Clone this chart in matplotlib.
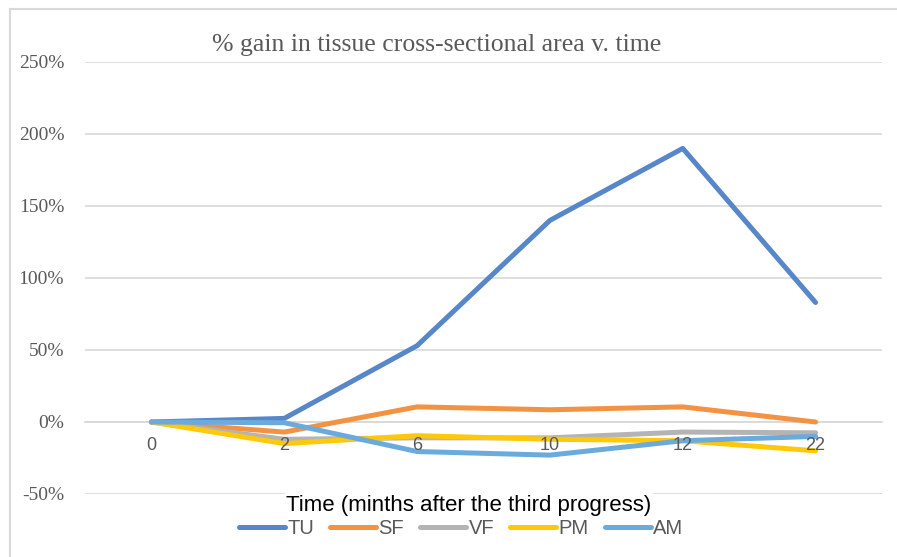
import numpy as np
import matplotlib.pyplot as plt
from matplotlib.lines import Line2D

# Categories (months after the third progress)
months = ["0", "2", "6", "10", "12", "22"]

# % gain per tissue
tu = [0, 2.5, 53, 140, 190, 83]
sf = [0, -7, 10.5, 8.5, 10.5, 0]
vf = [0, -12, -11, -11, -7, -7.5]
pm = [0, -15, -9.5, -12, -13, -20]
am = [0, -0.5, -20.5, -23, -13, -10]

series_names = ["TU", "SF", "VF", "PM", "AM"]
y_ticks = [-50, 0, 50, 100, 150, 200, 250]
y_ticklabels = ["-50%", "0%", "50%", "100%", "150%", "200%", "250%"]

colors = ["#5787C9", "#F39242", "#B4B4B4", "#FFC90A", "#6BAADD"]
grid_col = "#D9D9D9"
text_col = "#595959"

fig = plt.figure(figsize=(8.97, 5.57), dpi=100)
ax = fig.add_axes([85 / 897, 1 - 494 / 557, (882 - 85) / 897, (494 - 62) / 557])

x = np.arange(len(months))
for vals, name, c in zip([tu, sf, vf, pm, am], series_names, colors):
    ax.plot(x, vals, color=c, linewidth=3.6, label=name,
            solid_capstyle="round", solid_joinstyle="round", zorder=3)

ax.set_xlim(-0.5, len(months) - 0.5)
ax.set_ylim(-50, 250)

ax.set_yticks(y_ticks)
ax.set_yticklabels(y_ticklabels, family="Liberation Serif",
                   fontsize=14, color=text_col)
ax.tick_params(axis="y", length=0, pad=15)

# category labels sit just under the 0% line, drawn above the lines
ax.set_xticks(x)
ax.set_xticklabels([])
ax.tick_params(axis="x", length=0)
for xi, m in zip(x, months):
    ax.annotate(m, (xi, 0), xytext=(0, -17), textcoords="offset points",
                ha="center", va="center", family="Liberation Sans",
                fontsize=13, color=text_col, zorder=5)

ax.grid(axis="y", color=grid_col, linewidth=1.2)
ax.set_axisbelow(True)
for side in ["top", "right", "left"]:
    ax.spines[side].set_visible(False)
ax.spines["bottom"].set_position(("data", 0))
ax.spines["bottom"].set_color(grid_col)
ax.spines["bottom"].set_linewidth(1.2)

fig.text(437 / 897, 1 - 45 / 557,
         "% gain in tissue cross-sectional area v. time",
         family="Liberation Serif", fontsize=18.5, color=text_col,
         ha="center", va="center")

fig.text(469 / 897, 1 - 505 / 557,
         "Time (minths after the third progress)",
         family="Liberation Sans", fontsize=16, color="black",
         ha="center", va="center",
         bbox=dict(facecolor="white", edgecolor="none", pad=1))

fig.legend(loc="center", bbox_to_anchor=(461 / 897, 1 - 529 / 557),
           ncol=5, frameon=False, handlelength=2.3, handletextpad=0.1,
           columnspacing=0.8,
           prop={"family": "Liberation Sans", "size": 14.5},
           labelcolor=text_col)

# chart frame (cropped at right and bottom)
fig.add_artist(Line2D([10 / 897, 10 / 897], [0, 1 - 9 / 557],
                      color=grid_col, linewidth=1.5))
fig.add_artist(Line2D([10 / 897, 1], [1 - 9 / 557, 1 - 9 / 557],
                      color=grid_col, linewidth=1.5))

fig.savefig("out.png", dpi=100)
